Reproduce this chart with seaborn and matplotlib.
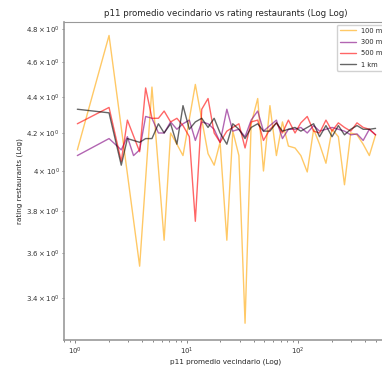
import numpy as np
import pandas as pd
import matplotlib
matplotlib.use("Agg")
import matplotlib.pyplot as plt
import seaborn as sns

# ---- data ----
grid_x = [1.05, 2.02, 2.6, 2.95, 3.35, 3.8, 4.3, 4.9, 5.6, 6.3, 7.2, 8.2, 9.3, 10.6,
          12.0, 13.7, 15.6, 17.7, 20.0, 23.0, 26.0, 29.5, 33.5, 38.0, 43.5, 49.0, 56.0,
          64.0, 72.5, 82.0, 94.0, 106.0, 121.0, 138.0, 156.0, 178.0, 202.0, 230.0,
          261.0, 297.0, 338.0, 384.0, 436.0, 496.0]

x_100m = [1.05, 2.02, 3.8, 4.9, 6.3, 7.2, 8.2, 9.3, 12.0, 15.6, 17.7, 20.0, 23.0,
          26.0, 29.5, 33.5, 38.0, 43.5, 49.0, 56.0, 64.0, 72.5, 82.0, 94.0, 106.0,
          121.0, 138.0, 156.0, 178.0, 202.0, 230.0, 261.0, 297.0, 338.0, 384.0, 436.0, 496.0]
y_100m = [4.11, 4.76, 3.54, 4.455, 3.66, 4.20, 4.14, 4.08, 4.47, 4.09, 4.03, 4.15, 3.66,
          4.21, 4.08, 3.29, 4.25, 4.39, 4.00, 4.35, 4.08, 4.26, 4.13, 4.12, 4.08,
          3.995, 4.22, 4.14, 4.04, 4.22, 4.18, 3.93, 4.20, 4.19, 4.14, 4.08, 4.19]

x_300m = grid_x
y_300m = [4.08, 4.17, 4.11, 4.18, 4.08, 4.11, 4.29, 4.28, 4.20, 4.20, 4.26, 4.22, 4.25,
          4.27, 4.16, 4.26, 4.25, 4.22, 4.15, 4.33, 4.21, 4.22, 4.18, 4.27, 4.32, 4.21,
          4.24, 4.27, 4.17, 4.22, 4.22, 4.23, 4.20, 4.24, 4.21, 4.22, 4.23, 4.22, 4.21,
          4.19, 4.195, 4.16, 4.22, 4.19]

x_500m = [v for i, v in enumerate(grid_x) if i != 4]
y_500m = [4.25, 4.34, 4.05, 4.27, 4.10, 4.45, 4.28, 4.28, 4.32, 4.26, 4.28, 4.24,
          4.18, 3.75, 4.33, 4.39, 4.20, 4.15, 4.21, 4.23, 4.25, 4.12, 4.26, 4.27, 4.16,
          4.22, 4.255, 4.20, 4.27, 4.20, 4.255, 4.29, 4.21, 4.20, 4.27, 4.21, 4.255,
          4.23, 4.21, 4.255, 4.23, 4.22, 4.19]

x_1km = grid_x
y_1km = [4.33, 4.31, 4.03, 4.17, 4.16, 4.15, 4.17, 4.17, 4.25, 4.20, 4.25, 4.14, 4.35,
         4.22, 4.26, 4.28, 4.23, 4.28, 4.20, 4.14, 4.25, 4.22, 4.17, 4.23, 4.25, 4.21,
         4.21, 4.255, 4.21, 4.22, 4.23, 4.21, 4.23, 4.25, 4.18, 4.24, 4.18, 4.24, 4.19,
         4.22, 4.24, 4.22, 4.22, 4.225]

labels = ["100 m", "300 m", "500 m", "1 km"]
colors = ["orange", "purple", "red", "black"]

frames = []
for lab, xs, ys in zip(labels, [x_100m, x_300m, x_500m, x_1km],
                       [y_100m, y_300m, y_500m, y_1km]):
    frames.append(pd.DataFrame({"x": xs, "y": ys, "radio": lab}))
df = pd.concat(frames, ignore_index=True)

# ---- style ----
sns.set_style("ticks")
plt.rcParams["font.family"] = ["DejaVu Sans"]
plt.rcParams["font.size"] = 5.2

fig = plt.figure(figsize=(3.82, 3.67), dpi=100)
ax = fig.add_axes([64 / 382, 27 / 367, (388 - 64) / 382, (340 - 22) / 367])

sns.lineplot(data=df, x="x", y="y", hue="radio", hue_order=labels,
             palette=dict(zip(labels, colors)), estimator=None, sort=True,
             alpha=0.6, linewidth=1.0, ax=ax)

ax.set_xscale("log")
ax.set_yscale("log")
ax.set_xlim(0.797, 641)
ax.set_ylim(3.22, 4.843)

ax.set_title("p11 promedio vecindario vs rating restaurants (Log Log)", fontsize=6.25, pad=4)
ax.set_xlabel("p11 promedio vecindario (Log)", fontsize=5.2, labelpad=1.5)
ax.set_ylabel("rating restaurants (Log)", fontsize=5.2, labelpad=2)

for name, s in ax.spines.items():
    s.set_color("#999999")
    s.set_linewidth(1.2 if name in ("left", "bottom") else 0.8)
ax.tick_params(axis="both", which="both", labelsize=5.0, colors="#555555",
               labelcolor="#333333", width=0.5)
ax.tick_params(axis="both", which="major", length=2.0, pad=2.0)
ax.tick_params(axis="both", which="minor", length=1.2, pad=2.0)

handles, _ = ax.get_legend_handles_labels()
ax.legend(handles=handles[-4:], labels=labels, loc="upper right", fontsize=4.8,
          frameon=True, framealpha=0.9, edgecolor="#cccccc", handlelength=2.4,
          handletextpad=0.8, borderpad=0.45, labelspacing=0.8, borderaxespad=0.4)

fig.savefig("out.png", dpi=100)
